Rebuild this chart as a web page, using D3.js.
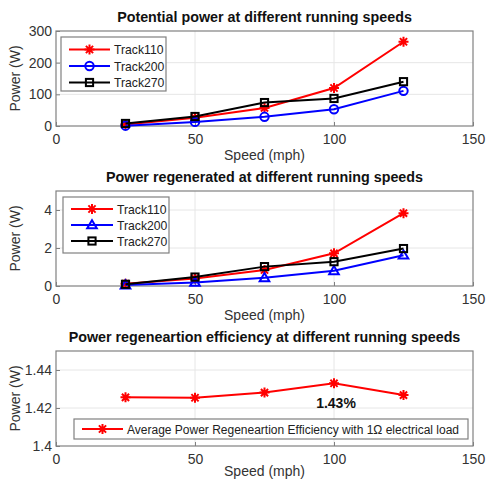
<!DOCTYPE html>
<html>
<head>
<meta charset="utf-8">
<script src="https://cdn.jsdelivr.net/npm/d3@7"></script>
<style>
  body { margin: 0; background: #fff; }
  svg { font-family: "Liberation Sans", Arial, sans-serif; }
</style>
</head>
<body>
<div id="chart"></div>
<script>
// speeds shared by every panel
const speeds = [25, 50, 75, 100, 125];
const x_ticks = [0, 50, 100, 150];

// panel 1: potential power (W)
const potential_110 = [5, 26, 57, 120, 266];
const potential_200 = [1, 13, 29, 53, 111];
const potential_270 = [8, 30, 74, 87, 140];
const potential_ticks = [0, 100, 200, 300];

// panel 2: regenerated power (W)
const regen_110 = [0.12, 0.40, 0.84, 1.72, 3.83];
const regen_200 = [0.05, 0.19, 0.43, 0.80, 1.62];
const regen_270 = [0.09, 0.47, 1.02, 1.28, 1.97];
const regen_ticks = [0, 2, 4];

// panel 3: efficiency
const efficiency = [1.4256, 1.4254, 1.4281, 1.4330, 1.4268];
const efficiency_ticks = [1.4, 1.42, 1.44];

const width = 486, height = 480;
const left = 56, right = 473, panel_h = 95;

const svg = d3.select("#chart").append("svg")
    .attr("width", width)
    .attr("height", height);

const x_scale = d3.scaleLinear().domain([0, 150]).range([left, right]);

// draws MATLAB style markers
function draw_marker(g, shape, color, cx, cy) {
    if (shape === "star") {
        const r = 5, d = r * 0.72;
        const p = `M${cx - r},${cy}L${cx + r},${cy}M${cx},${cy - r}L${cx},${cy + r}` +
            `M${cx - d},${cy - d}L${cx + d},${cy + d}M${cx - d},${cy + d}L${cx + d},${cy - d}`;
        g.append("path").attr("d", p).attr("stroke", color).attr("stroke-width", 2).attr("fill", "none");
    } else if (shape === "circle") {
        g.append("circle").attr("cx", cx).attr("cy", cy).attr("r", 4.2)
            .attr("fill", "none").attr("stroke", color).attr("stroke-width", 2);
    } else if (shape === "square") {
        g.append("rect").attr("x", cx - 3.6).attr("y", cy - 3.6).attr("width", 7.2).attr("height", 7.2)
            .attr("fill", "none").attr("stroke", color).attr("stroke-width", 2);
    } else if (shape === "triangle") {
        const r = 4.8;
        g.append("path")
            .attr("d", `M${cx},${cy - r}L${cx + r},${cy + r * 0.7}L${cx - r},${cy + r * 0.7}Z`)
            .attr("fill", "none").attr("stroke", color).attr("stroke-width", 2);
    }
}

function make_panel(cfg) {
    const top = cfg.top, bottom = top + panel_h;
    const y_scale = d3.scaleLinear().domain(cfg.domain).range([bottom, top]);
    const g = svg.append("g");

    // grid
    g.selectAll(".gx").data(x_ticks.slice(1, -1)).enter().append("line")
        .attr("x1", d => x_scale(d)).attr("x2", d => x_scale(d))
        .attr("y1", top).attr("y2", bottom)
        .attr("stroke", "#e6e6e6").attr("stroke-width", 1);
    g.selectAll(".gy").data(cfg.ticks.filter(t => t > cfg.domain[0] && t < cfg.domain[1])).enter().append("line")
        .attr("x1", left).attr("x2", right)
        .attr("y1", d => y_scale(d)).attr("y2", d => y_scale(d))
        .attr("stroke", "#e6e6e6").attr("stroke-width", 1);

    // axes
    const x_axis = d3.axisBottom(x_scale).tickValues(x_ticks).tickSize(-4).tickPadding(8);
    const y_axis = d3.axisLeft(y_scale).tickValues(cfg.ticks).tickSize(-4).tickPadding(4)
        .tickFormat(d => String(+d.toFixed(2)));

    const gx = g.append("g").attr("transform", `translate(0,${bottom})`).call(x_axis);
    const gy = g.append("g").attr("transform", `translate(${left},0)`).call(y_axis);
    [gx, gy].forEach(a => {
        a.select(".domain").remove();
        a.selectAll(".tick line").attr("stroke", "#808080");
        a.selectAll(".tick text").attr("fill", "#333").attr("font-size", "14px")
            .attr("font-family", "Liberation Sans, Arial, sans-serif");
    });

    g.append("rect")
        .attr("x", left).attr("y", top)
        .attr("width", right - left).attr("height", panel_h)
        .attr("fill", "none").attr("stroke", "#808080").attr("stroke-width", 1.2);

    // title and labels
    g.append("text")
        .attr("x", (left + right) / 2).attr("y", top - 9)
        .attr("text-anchor", "middle").attr("font-weight", "bold")
        .attr("font-size", "14.3px").attr("fill", "#111")
        .text(cfg.title);
    g.append("text")
        .attr("x", (left + right) / 2).attr("y", bottom + cfg.xlab)
        .attr("text-anchor", "middle").attr("font-size", "14px").attr("fill", "#333")
        .text("Speed (mph)");
    g.append("text")
        .attr("transform", `translate(20,${(top + bottom) / 2}) rotate(-90)`)
        .attr("text-anchor", "middle").attr("font-size", "14px").attr("fill", "#333")
        .text("Power (W)");

    // series
    const line = d3.line().x(d => x_scale(d[0])).y(d => y_scale(d[1]));
    cfg.series.forEach(s => {
        const pts = speeds.map((v, i) => [v, s.values[i]]);
        g.append("path").datum(pts).attr("d", line)
            .attr("fill", "none").attr("stroke", s.color).attr("stroke-width", 2);
        pts.forEach(p => draw_marker(g, s.shape, s.color, x_scale(p[0]), y_scale(p[1])));
    });

    // legend
    const lg = cfg.legend;
    g.append("rect")
        .attr("x", lg.x).attr("y", lg.y).attr("width", lg.w).attr("height", lg.h)
        .attr("fill", "#fff").attr("stroke", "#808080").attr("stroke-width", 1.2);
    cfg.series.forEach((s, i) => {
        const ly = lg.y + lg.first + i * lg.step;
        g.append("line")
            .attr("x1", lg.x + 8).attr("x2", lg.x + 8 + lg.line)
            .attr("y1", ly).attr("y2", ly)
            .attr("stroke", s.color).attr("stroke-width", 2);
        draw_marker(g, s.shape, s.color, lg.x + 8 + lg.line / 2, ly);
        g.append("text")
            .attr("x", lg.x + 12 + lg.line).attr("y", ly + 4.5)
            .attr("font-size", lg.font).attr("fill", "#222")
            .text(s.name);
    });
    return {g, y_scale};
}

make_panel({
    top: 31, domain: [0, 300], ticks: potential_ticks, xlab: 34,
    title: "Potential power at different running speeds",
    series: [
        {name: "Track110", values: potential_110, color: "#ff0000", shape: "star"},
        {name: "Track200", values: potential_200, color: "#0000ff", shape: "circle"},
        {name: "Track270", values: potential_270, color: "#000000", shape: "square"}
    ],
    legend: {x: 61, y: 37, w: 105, h: 54, first: 12.5, step: 16.5, line: 41, font: "12.2px"}
});

make_panel({
    top: 191, domain: [0, 5], ticks: regen_ticks, xlab: 34,
    title: "Power regenerated at different running speeds",
    series: [
        {name: "Track110", values: regen_110, color: "#ff0000", shape: "star"},
        {name: "Track200", values: regen_200, color: "#0000ff", shape: "triangle"},
        {name: "Track270", values: regen_270, color: "#000000", shape: "square"}
    ],
    legend: {x: 63, y: 197, w: 106, h: 56, first: 12, step: 16, line: 42, font: "12.2px"}
});

const p3 = make_panel({
    top: 351, domain: [1.4, 1.45], ticks: efficiency_ticks, xlab: 30,
    title: "Power regeneartion efficiency at different running speeds",
    series: [
        {name: "Average Power Regeneartion Efficiency with 1\u03A9 electrical load",
            values: efficiency, color: "#ff0000", shape: "star"}
    ],
    legend: {x: 74, y: 419, w: 394, h: 20, first: 10, step: 0, line: 41, font: "12px"}
});

// annotation on the peak efficiency
p3.g.append("text")
    .attr("x", x_scale(speeds[3]) + 2)
    .attr("y", p3.y_scale(efficiency[3]) + 25)
    .attr("text-anchor", "middle").attr("font-weight", "bold")
    .attr("font-size", "14px").attr("fill", "#111")
    .text(d3.format(".2f")(efficiency[3]) + "%");
</script>
</body>
</html>
